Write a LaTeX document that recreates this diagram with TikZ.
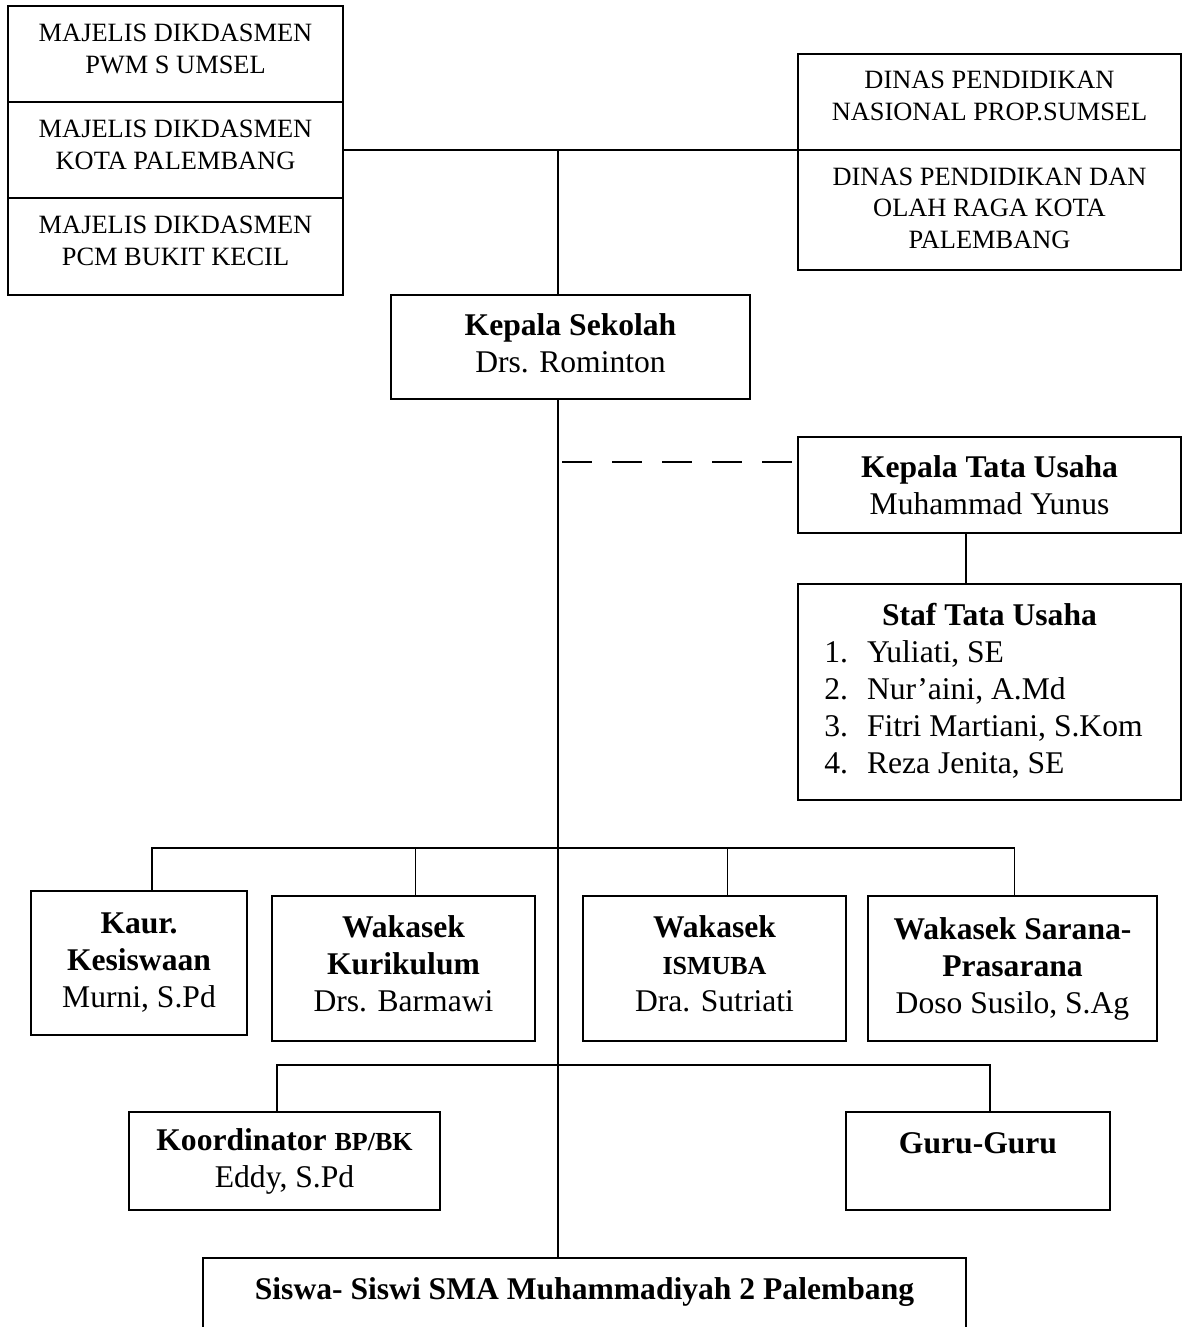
\documentclass[tikz,border=0pt]{standalone}
\usepackage{fontspec}
\setmainfont{Liberation Serif}
\usetikzlibrary{calc}

\begin{document}
\begin{tikzpicture}[y=0.5pt, x=0.5pt, yscale=-1, inner sep=0pt, outer sep=0pt,
  orgbox/.style={draw=black, line width=1pt, align=center},
  topfont/.style={font=\fontsize{13.2}{15.8}\selectfont},
  mainfont/.style={font=\fontsize{15.8}{18.5}\selectfont},
  link/.style={draw=black, line width=0.9pt}]
\useasboundingbox (0,0) rectangle (1186,1327);
  \node[orgbox, topfont, minimum width=167.5pt, minimum height=48pt, text depth=5pt] (maj1) at (175.5,54)
    {MAJELIS DIKDASMEN\\PWM S UMSEL};
  \node[orgbox, topfont, minimum width=167.5pt, minimum height=48pt, text depth=5pt] (maj2) at (175.5,150)
    {MAJELIS DIKDASMEN\\KOTA PALEMBANG};
  \node[orgbox, topfont, minimum width=167.5pt, minimum height=48.5pt, text depth=6pt] (maj3) at (175.5,246.5)
    {MAJELIS DIKDASMEN\\PCM BUKIT KECIL};
  \node[orgbox, topfont, minimum width=191.5pt, minimum height=48pt, text depth=6pt] (dinas1) at (989.5,102)
    {DINAS PENDIDIKAN\\NASIONAL PROP.SUMSEL};
  \node[orgbox, topfont, minimum width=191.5pt, minimum height=60pt, text depth=2pt] (dinas2) at (989.5,210)
    {DINAS PENDIDIKAN DAN\\OLAH RAGA KOTA\\PALEMBANG};
  \node[orgbox, mainfont, minimum width=179.5pt, minimum height=52pt, text depth=4pt] (kepsek) at (570.5,347)
    {\textbf{Kepala Sekolah}\\Drs. Rominton};
  \node[orgbox, mainfont, minimum width=191.5pt, minimum height=48pt] (ktu) at (989.5,485)
    {\textbf{Kepala Tata Usaha}\\Muhammad Yunus};
  \node[orgbox, mainfont, minimum width=191.5pt, minimum height=108pt] (staf) at (989.5,692)
    {\begin{tabular}{@{}l@{\hspace{9.5pt}}l@{\hspace{6pt}}}
      \multicolumn{2}{c}{\textbf{Staf Tata Usaha}}\\
      1. & Yuliati, SE\\
      2. & Nur'aini, A.Md\\
      3. & Fitri Martiani, S.Kom\\
      4. & Reza Jenita, SE
    \end{tabular}};
  \node[orgbox, mainfont, minimum width=108pt, minimum height=72pt] (kaur) at (139,963)
    {\textbf{Kaur.}\\\textbf{Kesiswaan}\\Murni, S.Pd};
  \node[orgbox, mainfont, minimum width=131.5pt, minimum height=72.5pt, text depth=5pt] (kurik) at (403.5,968.5)
    {\textbf{Wakasek}\\\textbf{Kurikulum}\\Drs. Barmawi};
  \node[orgbox, mainfont, minimum width=131.5pt, minimum height=72.5pt, text depth=5pt] (ismuba) at (714.5,968.5)
    {\textbf{Wakasek}\\{\fontsize{13}{15}\selectfont\bfseries ISMUBA}\\Dra. Sutriati};
  \node[orgbox, mainfont, minimum width=144.5pt, minimum height=72.5pt] (sarana) at (1012.5,968.5)
    {\textbf{Wakasek Sarana-}\\\textbf{Prasarana}\\Doso Susilo, S.Ag};
  \node[orgbox, mainfont, minimum width=155.5pt, minimum height=49pt] (koord) at (284.5,1161)
    {\textbf{Koordinator {\fontsize{13}{15}\selectfont BP/BK}}\\Eddy, S.Pd};
  \node[orgbox, mainfont, minimum width=132pt, minimum height=49pt, text depth=18pt] (guru) at (978,1161)
    {\textbf{Guru-Guru}};
  \node[orgbox, mainfont, anchor=north, minimum width=381.5pt, inner ysep=10pt, text depth=30pt] (siswa)
    at (584.5,1258) {\textbf{Siswa- Siswi SMA Muhammadiyah 2 Palembang}};

  \coordinate (jTop) at (558,150);
  \coordinate (busA) at (558,848);
  \coordinate (busB) at (558,1065);
  \coordinate (tuTap) at ($(ktu.north west)!0.26!(ktu.south west)$);
  \coordinate (tuDrop) at ($(ktu.south west)!0.4386!(ktu.south east)$);
  \draw[link] (maj2.east) -- (dinas2.north west);
  \draw[link] (jTop) -- (jTop |- kepsek.north);
  \draw[link] (jTop |- kepsek.south) -- (jTop |- siswa.north);
  \draw[link, dash pattern=on 15pt off 10pt, dash phase=-2pt] (jTop |- tuTap) -- (tuTap);
  \draw[link] (tuDrop) -- (tuDrop |- staf.north);
  \draw[link] ([xshift=6.5pt]kaur.north) |- (busA) -| ([xshift=1pt]sarana.north);
  \draw[link] ([xshift=6pt]kurik.north) |- (busA);
  \draw[link] ([xshift=6.5pt]ismuba.north) |- (busA);
  \draw[link] ([xshift=-3.75pt]koord.north) |- (busB) -| ([xshift=6pt]guru.north);
\end{tikzpicture}
\end{document}
